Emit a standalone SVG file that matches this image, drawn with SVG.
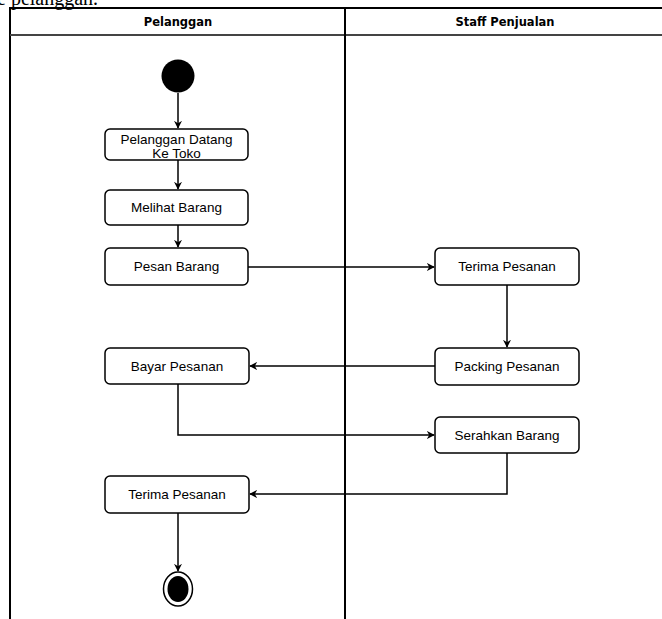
<svg xmlns="http://www.w3.org/2000/svg" width="662" height="619" viewBox="0 0 662 619">
<defs>
<style>
.lane{fill:none;stroke:#000;stroke-width:2}
.sep{fill:none;stroke:#444;stroke-width:2}
.act{fill:#fff;stroke:#000;stroke-width:1.5}
.lbl{font-family:"Liberation Sans",Arial,sans-serif;font-size:13.5px;fill:#000;text-anchor:middle}
.hdr{font-family:"DejaVu Sans",Verdana,sans-serif;font-size:11.5px;font-weight:bold;fill:#000;text-anchor:middle}
.edge{fill:none;stroke:#000;stroke-width:1.5}
</style>
<marker id="arr" viewBox="0 0 10 10" refX="9" refY="5" markerWidth="8" markerHeight="8" markerUnits="userSpaceOnUse" orient="auto">
<path d="M0,0 L10,5 L0,10 L3,5 Z" fill="#000"/>
</marker>
</defs>
<rect width="662" height="619" fill="#fff"/>
<text x="-3" y="5" font-family="Liberation Serif,'Times New Roman',serif" font-size="20" fill="#000">e pelanggan.</text>
<g id="swimlanes">
<path class="lane" d="M10,619 V8 H662"/>
<path class="sep" d="M10,35 H662"/>
<path class="lane" d="M345,8 V619"/>
<text class="hdr" x="178" y="26">Pelanggan</text>
<text class="hdr" x="505" y="26">Staff Penjualan</text>
</g>
<g id="connectors">
<path class="edge" d="M178,93 V128" marker-end="url(#arr)"/>
<path class="edge" d="M178,160 V189" marker-end="url(#arr)"/>
<path class="edge" d="M178,225 V247" marker-end="url(#arr)"/>
<path class="edge" d="M248,267 H434" marker-end="url(#arr)"/>
<path class="edge" d="M507,285 V347" marker-end="url(#arr)"/>
<path class="edge" d="M435,366 H250" marker-end="url(#arr)"/>
<path class="edge" d="M178,384 V435 H434" marker-end="url(#arr)"/>
<path class="edge" d="M507,453 V494 H250" marker-end="url(#arr)"/>
<path class="edge" d="M178,513 V571" marker-end="url(#arr)"/>
</g>
<g id="start"><circle cx="178" cy="76" r="16.5" fill="#000"/></g>
<g id="a1"><rect class="act" x="105" y="129" width="143" height="31" rx="5"/><text class="lbl" x="176.5" y="144">Pelanggan Datang</text><text class="lbl" x="176.5" y="157.5">Ke Toko</text></g>
<g id="a2"><rect class="act" x="105" y="190" width="143" height="35" rx="5"/><text class="lbl" x="176.5" y="212">Melihat Barang</text></g>
<g id="a3"><rect class="act" x="105" y="248" width="143" height="37" rx="5"/><text class="lbl" x="176.5" y="271">Pesan Barang</text></g>
<g id="b1"><rect class="act" x="435" y="248" width="144" height="37" rx="5"/><text class="lbl" x="507" y="271">Terima Pesanan</text></g>
<g id="b2"><rect class="act" x="435" y="348" width="144" height="37" rx="5"/><text class="lbl" x="507" y="371">Packing Pesanan</text></g>
<g id="a4"><rect class="act" x="105" y="348" width="144" height="36" rx="5"/><text class="lbl" x="177" y="371">Bayar Pesanan</text></g>
<g id="b3"><rect class="act" x="435" y="417" width="144" height="36" rx="5"/><text class="lbl" x="507" y="440">Serahkan Barang</text></g>
<g id="a5"><rect class="act" x="105" y="476" width="144" height="37" rx="5"/><text class="lbl" x="177" y="499">Terima Pesanan</text></g>
<g id="end"><ellipse cx="178" cy="589" rx="14.5" ry="17" fill="#fff" stroke="#000" stroke-width="1.5"/><ellipse cx="178" cy="589" rx="10.5" ry="13" fill="#000"/></g>
</svg>
